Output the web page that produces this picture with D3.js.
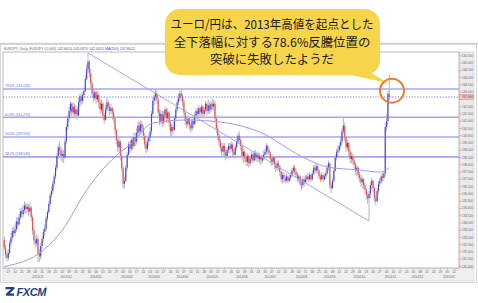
<!DOCTYPE html>
<html><head><meta charset="utf-8">
<script src="https://cdn.jsdelivr.net/npm/d3@7/dist/d3.min.js"></script>
<style>
html,body{margin:0;padding:0;background:#fff;}
svg{display:block;font-family:"Liberation Sans",Arial,sans-serif;}
</style></head>
<body><div id="chart"></div>
<script>
// EUR/JPY daily, first bar 2013-10-02, last bar 2014-11-05
const startDay = "2013-10-02";
const firstOpen = 132.85;
const closes = [
132.30,131.80,131.60,
131.95,132.60,133.00,133.45,133.30, 133.55,134.10,133.90,134.40,134.80,
134.60,134.90,135.20,134.95,135.10, 134.80,135.05,134.40,133.50,132.80,
132.60,132.90,131.90,131.70,132.40, 132.90,133.40,133.60,134.30,134.75,
135.30,135.90,136.20,136.70,137.20, 137.80,138.60,139.20,139.00,138.60,
138.75,138.50,139.60,140.60,141.20, 141.70,142.20,141.60,142.00,141.50,
141.80,141.40,142.30,142.70,142.40, 142.80,143.10,143.90,144.60,145.10,
144.30,143.60,142.90,142.60,143.00, 142.50,142.80,142.30,141.80,142.20,
141.40,141.10,141.80,142.30,142.00, 141.70,141.90,141.60,141.20,140.40,
139.70,139.20,139.60,138.60,137.80, 136.70,136.90,137.80,138.70,139.40,
139.10,139.70,139.30,139.90,139.60, 140.20,140.70,140.30,140.80,140.50,
140.00,139.40,139.10,139.60,139.90, 140.30,141.50,142.40,142.70,142.90,
142.50,141.60,141.00,141.50,140.90, 141.40,141.80,141.20,141.60,140.90,
140.30,140.60,140.40,141.20,141.80, 142.30,142.60,142.90,142.70,142.30,
141.60,141.00,140.80,141.20,140.70, 140.50,141.00,140.80,141.40,141.70,
141.50,141.90,141.60,142.00,141.50, 141.80,142.20,141.70,142.10,141.80,
142.20,142.00,142.20,141.20,140.50, 140.00,139.60,139.20,138.90,139.30,
138.90,138.60,139.00,139.30,139.10, 139.40,138.90,138.70,139.20,139.60,
140.00,139.70,139.30,138.60,138.90, 138.50,138.20,138.60,138.10,138.40,
138.70,138.30,138.80,138.50,138.70, 138.40,138.60,138.30,138.50,138.70,
138.90,139.30,139.00,138.80,138.40, 138.20,138.50,138.00,137.80,138.10,
137.90,137.50,137.00,137.30,137.10, 136.90,137.20,136.90,137.10,137.30,
137.60,137.80,137.50,137.30,137.00, 137.20,136.70,136.60,137.00,136.80,
137.00,137.20,137.00,137.30,137.00, 137.40,137.80,137.60,137.90,137.60,
137.20,137.00,137.30,137.00,137.20, 137.40,137.80,138.10,136.60,136.40,
136.90,137.60,138.50,138.90,139.00, 139.30,139.60,140.30,140.70,139.90,
139.20,139.50,138.90,138.40,138.60, 138.30,138.00,137.60,137.80,137.30,
137.10,136.80,137.00,136.60,136.30, 135.90,135.70,136.00,136.60,136.90,
136.40,135.70,135.50,136.20,136.70, 136.90,137.20,137.10,137.40,140.60,
141.00,142.90,142.66];
const highs = [
133.10,132.50,132.10,
132.20,132.80,133.30,133.70,133.75, 133.90,134.40,134.35,134.65,135.00,
135.10,135.25,135.50,135.40,135.35, 135.30,135.40,135.20,134.55,133.70,
133.10,133.20,133.10,132.20,132.60, 133.10,133.60,133.90,134.50,134.90,
135.50,136.10,136.50,136.90,137.40, 138.00,138.80,139.40,139.60,139.30,
139.10,139.00,139.80,140.80,141.40, 142.00,142.40,142.30,142.30,142.20,
142.10,142.00,142.60,142.90,142.90, 143.00,143.30,144.20,144.90,145.69,
145.20,144.60,143.80,143.20,143.20, 143.10,143.10,143.00,142.50,142.50,
142.30,141.60,142.10,142.60,142.50, 142.20,142.20,142.00,141.80,141.30,
140.50,139.90,139.90,139.70,138.80, 137.90,137.20,138.00,138.90,139.60,
139.60,140.00,139.90,140.20,140.20, 140.50,141.00,141.00,141.10,141.00,
140.70,140.20,139.60,139.80,140.10, 140.60,141.70,142.60,143.00,143.30,
143.10,142.60,141.80,141.80,141.70, 141.70,142.00,141.90,141.90,141.70,
141.00,140.80,140.90,141.40,142.00, 142.50,142.90,143.10,143.20,142.90,
142.50,141.80,141.30,141.40,141.30, 140.90,141.20,141.20,141.60,141.90,
141.90,142.10,142.00,142.20,142.10, 142.00,142.40,142.30,142.50,142.30,
142.40,142.60,142.50,142.40,141.40, 140.70,140.20,139.80,139.50,139.50,
139.50,139.10,139.20,139.50,139.50, 139.60,139.50,139.10,139.40,139.80,
140.20,140.30,139.90,139.50,139.10, 139.00,138.70,138.80,138.70,138.60,
138.90,138.80,139.00,139.00,138.90, 138.90,138.80,138.70,138.70,139.00,
139.10,139.50,139.40,139.20,138.90, 138.60,138.70,138.60,138.20,138.30,
138.30,138.00,137.60,137.50,137.50, 137.30,137.40,137.30,137.30,137.50,
137.80,138.00,138.00,137.70,137.50, 137.40,137.30,137.00,137.20,137.20,
137.30,137.40,137.40,137.50,137.40, 137.60,138.00,138.00,138.10,138.00,
137.70,137.40,137.50,137.40,137.40, 137.60,138.00,138.30,138.20,136.80,
137.10,137.80,138.70,139.10,139.30, 139.50,139.90,140.50,141.29,140.90,
140.00,139.70,139.60,139.10,138.90, 138.80,138.50,138.20,138.00,137.90,
137.50,137.30,137.20,137.10,136.80, 136.40,136.10,136.20,136.80,137.10,
137.00,136.50,135.90,136.40,136.90, 137.10,137.40,137.50,137.60,140.90,
141.50,143.10,144.20];
const lows = [
132.10,131.55,131.35,
131.40,131.80,132.40,132.80,133.00, 133.10,133.40,133.60,133.80,134.20,
134.30,134.40,134.70,134.60,134.70, 134.50,134.60,134.10,133.20,132.50,
132.30,132.40,131.30,131.30,131.50, 132.20,132.70,133.10,133.40,134.10,
134.60,135.10,135.70,136.00,136.50, 137.00,137.60,138.40,138.70,138.30,
138.20,138.10,138.40,139.40,140.40, 140.90,141.40,141.30,141.40,141.20,
141.30,141.10,141.20,142.00,142.10, 142.20,142.60,143.00,143.80,144.40,
144.00,143.30,142.60,142.30,142.40, 142.20,142.30,141.90,141.50,141.60,
141.10,140.80,141.00,141.60,141.70, 141.40,141.50,141.10,140.90,140.10,
139.40,138.90,138.80,138.30,137.50, 136.35,136.40,136.80,137.60,138.50,
138.80,138.90,139.00,139.10,139.30, 139.40,140.00,140.00,140.10,140.20,
139.70,139.10,138.80,138.90,139.30, 139.60,140.10,141.30,142.10,142.40,
142.20,141.30,140.70,140.80,140.60, 140.70,141.10,140.90,140.90,140.60,
140.00,139.90,140.10,140.30,141.00, 141.60,142.10,142.40,142.40,142.00,
141.30,140.70,140.50,140.60,140.40, 140.20,140.30,140.50,140.70,141.20,
141.20,141.30,141.30,141.40,141.20, 141.20,141.60,141.40,141.50,141.50,
141.60,141.80,141.70,140.90,140.20, 139.70,139.30,138.90,138.60,138.50,
138.60,138.30,138.40,138.80,138.80, 138.90,138.60,138.40,138.50,139.00,
139.40,139.40,139.00,138.30,138.10, 138.20,137.90,137.90,137.80,137.90,
138.20,138.10,138.20,138.30,138.20, 138.20,138.10,138.00,138.10,138.30,
138.40,138.70,138.70,138.50,138.10, 137.90,138.00,137.70,137.50,137.60,
137.60,137.20,136.80,136.70,136.80, 136.70,136.80,136.70,136.80,136.90,
137.20,137.40,137.30,137.10,136.80, 136.80,136.50,136.25,136.40,136.50,
136.70,136.80,136.80,136.90,136.80, 136.90,137.30,137.40,137.40,137.40,
137.00,136.80,136.90,136.80,136.90, 137.00,137.30,137.60,136.30,136.06,
136.30,136.80,137.50,138.30,138.60, 138.80,139.10,139.40,140.10,139.60,
138.90,139.00,138.60,138.10,138.10, 138.00,137.70,137.30,137.20,137.00,
136.80,136.50,136.40,136.30,136.00, 135.60,135.30,134.13,135.70,136.30,
136.10,135.40,135.20,135.40,136.00, 136.50,136.70,136.80,136.90,137.20,
140.30,140.80,142.40];
// moving average: [bar, price]
const maPoints = [[0,131.00],[29,132.13],[43,133.51],[61,136.26],[86,138.88],[93,139.36],
  [110,140.87],[135,141.08],[160,140.94],[189,140.25],[221,138.53],[239,137.85],
  [263,137.64],[278,137.50],[285,137.80]];
const fibRatios = [0.786, 0.618, 0.5, 0.382];
const fibNames = ["78.6%", "61.8%", "50.0%", "38.2%"];
const priceTicks = [131.0,131.5,132.0,132.5,133.0,133.5,134.0,134.5,135.0,135.5,136.0,136.5,
  137.0,137.5,138.0,138.5,139.0,139.5,140.0,140.5,141.0,141.5,142.0,142.5,143.0,143.5,
  144.0,144.5,145.0,145.5];
const headerText = "EURJPY, Daily, EURJPY (1.000) 142.6610 143.0870 142.4020 ";
const headerBlue = "MA(200) 137.8012";
const calloutLines = ["ユーロ/円は、2013年高値を起点とした", "全下落幅に対する78.6%反騰位置の", "突破に失敗したようだ"];
const circleAt = [287, 143.1];

const W = 478, Ht = 303;
const P = { l: 3, t: 52, r: 459, b: 268 };
const svg = d3.select("#chart").append("svg").attr("width", W).attr("height", Ht);

const t0 = d3.timeParse("%Y-%m-%d")(startDay);
const days = d3.timeDay.range(t0, d3.timeDay.offset(t0, 520)).filter(d => d.getDay() % 6 !== 0).slice(0, 338);

const x = d3.scaleLinear().domain([-0.9, 336.6]).range([P.l, P.r]);
const y = d3.scaleLinear().domain([130.9, 145.76]).range([P.b, P.t]);

const bars = closes.map((c, i) => ({ i, o: i ? closes[i - 1] : firstOpen, c, h: highs[i], l: lows[i] }));

// frame
svg.append("line").attr("x1", 0).attr("x2", W).attr("y1", 43.5).attr("y2", 43.5).attr("stroke", "#d2d2d2").attr("stroke-width", 1.5);
svg.append("rect").attr("x", 0.5).attr("y", 44.5).attr("width", 476).attr("height", 238).attr("fill", "#fff").attr("stroke", "#d6d6d6");
svg.append("rect").attr("x", P.r).attr("y", P.t).attr("width", 15).attr("height", P.b - P.t).attr("fill", "#ebebeb").attr("stroke", "#c4c4c4").attr("stroke-width", 0.6);
svg.append("rect").attr("x", P.l).attr("y", P.b).attr("width", 471).attr("height", 13).attr("fill", "#efefef").attr("stroke", "#cfcfcf").attr("stroke-width", 0.6);
svg.append("rect").attr("x", P.l).attr("y", P.t).attr("width", P.r - P.l).attr("height", P.b - P.t).attr("fill", "#fff").attr("stroke", "#a9a9a9").attr("stroke-width", 0.8);

const ht = svg.append("text").attr("x", 4).attr("y", 50.3).style("font-size", "3.6px").attr("fill", "#666").text(headerText);
ht.append("tspan").attr("fill", "#4646d8").text(headerBlue);

svg.append("clipPath").attr("id", "pc").append("rect").attr("x", P.l).attr("y", P.t).attr("width", P.r - P.l).attr("height", P.b - P.t);
const g = svg.append("g").attr("clip-path", "url(#pc)");

// fibonacci retracement of the fall from the 2013 high to the later low
const hiI = d3.maxIndex(highs);
const loI = hiI + d3.minIndex(lows.slice(hiI));
const fHi = highs[hiI], fLo = lows[loI];
fibRatios.forEach((r, k) => {
  const p = fLo + r * (fHi - fLo), yy = y(p);
  g.append("line").attr("x1", P.l).attr("x2", P.r).attr("y1", yy).attr("y2", yy)
    .attr("stroke", "#a4a4f2").attr("stroke-width", 1.6);
  g.append("text").attr("x", 5).attr("y", yy - 1.6).style("font-size", "3.4px").attr("fill", "#6a6ac4")
    .text(`${fibNames[k]} (${p.toFixed(3)})`);
});

// candles
g.selectAll(".wick").data(bars).join("line")
  .attr("x1", d => x(d.i)).attr("x2", d => x(d.i)).attr("y1", d => y(d.h)).attr("y2", d => y(d.l))
  .attr("stroke", "#b8b8b8").attr("stroke-width", 1);
g.selectAll(".body").data(bars).join("rect")
  .attr("x", d => x(d.i) - 0.55).attr("width", 1.1)
  .attr("y", d => y(Math.max(d.o, d.c))).attr("height", d => Math.max(0.8, Math.abs(y(d.o) - y(d.c))))
  .attr("fill", d => d.c >= d.o ? "#3c3cff" : "#ff4444");

// moving average and trend line
g.append("path").datum(maPoints)
  .attr("d", d3.line().x(d => x(d[0])).y(d => y(d[1])).curve(d3.curveMonotoneX))
  .attr("fill", "none").attr("stroke", "#a09ce8").attr("stroke-width", 1);
g.append("line").attr("x1", x(hiI)).attr("y1", y(fHi)).attr("x2", x(loI)).attr("y2", y(fLo))
  .attr("stroke", "#a6a6ee").attr("stroke-width", 1);

// current price
const last = closes[closes.length - 1];
g.append("line").attr("x1", P.l).attr("x2", P.r).attr("y1", y(last)).attr("y2", y(last))
  .attr("stroke", "#6464f0").attr("stroke-width", 0.9).attr("stroke-dasharray", "1.2,1.6");

// price axis
const ax = svg.append("g");
priceTicks.forEach(p => {
  ax.append("line").attr("x1", P.r + 0.5).attr("x2", P.r + 2.5).attr("y1", y(p)).attr("y2", y(p)).attr("stroke", "#e88080").attr("stroke-width", 0.7);
  if (Math.abs(y(p) - y(last)) < 4) return;
  ax.append("text").attr("x", P.r + 3).attr("y", y(p)).attr("dy", "0.35em").style("font-size", "3px").attr("fill", "#666").text(p.toFixed(3));
});
ax.append("rect").attr("x", P.r + 0.5).attr("y", y(last) - 2.4).attr("width", 14).attr("height", 4.8)
  .attr("fill", "#f6c2c2").attr("stroke", "#e27a7a").attr("stroke-width", 0.5);
ax.append("text").attr("x", P.r + 3).attr("y", y(last)).attr("dy", "0.35em").style("font-size", "3px").attr("fill", "#555").text(last.toFixed(3));

// date axis
const fDay = d3.timeFormat("%d"), fMon = d3.timeFormat("%Y/%m");
days.forEach((d, i) => {
  const xx = x(i);
  if (xx < P.l + 1 || xx > P.r - 1) return;
  if (d.getDay() === 1) {
    svg.append("line").attr("x1", xx).attr("x2", xx).attr("y1", P.b).attr("y2", P.b + 1.6).attr("stroke", "#d08080").attr("stroke-width", 0.5);
    svg.append("text").attr("x", xx).attr("y", P.b + 5).attr("text-anchor", "middle").style("font-size", "3.2px").attr("fill", "#666").text(fDay(d));
  }
  if (i > 0 && d.getMonth() !== days[i - 1].getMonth()) {
    svg.append("text").attr("x", xx + 4).attr("y", P.b + 10).attr("text-anchor", "middle").style("font-size", "3.2px").attr("fill", "#666").text(fMon(d));
  }
});

// callout
const co = svg.append("g");
co.append("path").attr("d", "M342,73 L366,70 L388,83 Z").attr("fill", "#f6d54b");
co.append("rect").attr("x", 165).attr("y", 9).attr("width", 215).attr("height", 66).attr("rx", 15).attr("fill", "#f6d54b");
calloutLines.forEach((s, k) => {
  const t = co.append("text").attr("x", 272).attr("y", 25 + k * 17.5).attr("dy", "0.36em").attr("text-anchor", "middle")
    .style("font-family", "'Noto Sans CJK JP', sans-serif").style("font-size", "12.4px").attr("fill", "#1a1a1a").text(s);
  if (k === 0) t.attr("textLength", 203).attr("lengthAdjust", "spacingAndGlyphs");
});
svg.append("circle").attr("cx", x(circleAt[0])).attr("cy", y(circleAt[1])).attr("r", 12)
  .attr("fill", "none").attr("stroke", "#ef7d20").attr("stroke-width", 2);

// FXCM logo
const lg = svg.append("g").attr("fill", "#1d3f8a").attr("stroke", "#1d3f8a");
lg.append("path").attr("d", "M5.5,288.2 H13.5 L6.8,294.6 H14").attr("fill", "none").attr("stroke-width", 2.2).attr("stroke-linejoin", "round");
lg.append("text").attr("x", 16.5).attr("y", 296).attr("stroke", "none").style("font-size", "11px").style("font-weight", "900")
  .style("font-style", "italic").attr("letter-spacing", "-0.4").text("FXCM");
lg.append("text").attr("x", 45).attr("y", 289).attr("stroke", "none").style("font-size", "3px").text("®");
</script>
</body></html>
